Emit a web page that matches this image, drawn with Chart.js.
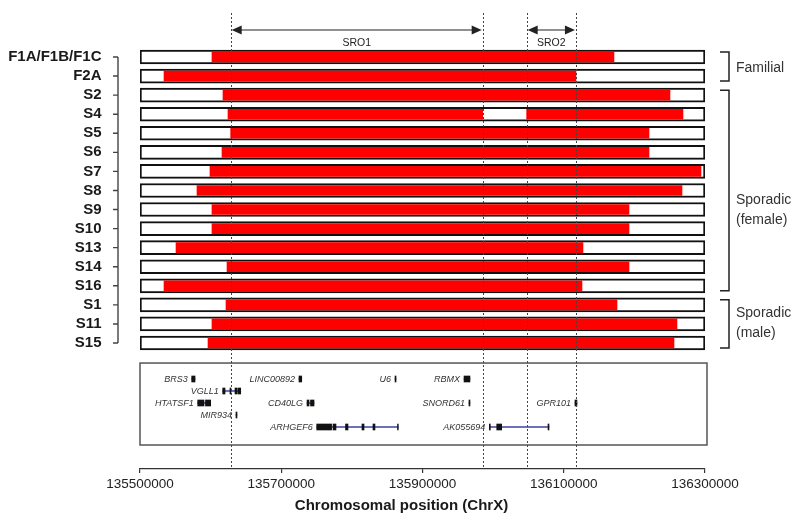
<!DOCTYPE html>
<html>
<head>
<meta charset="utf-8">
<script src="https://cdn.jsdelivr.net/npm/chart.js@4.4.0/dist/chart.umd.min.js"></script>
<style>
  html, body { margin: 0; padding: 0; background: #fff; }
  #wrap { width: 800px; height: 522px; }
</style>
</head>
<body>
<div id="wrap"><canvas id="chart"></canvas></div>
<script>
// chromosome window and axis ticks (ChrX, bp)
const xMin = 135500000;
const xMax = 136300000;
const xTicks = [135500000, 135700000, 135900000, 136100000, 136300000];

// one row per patient, top to bottom
const samples = ['F1A/F1B/F1C', 'F2A', 'S2', 'S4', 'S5', 'S6', 'S7', 'S8',
  'S9', 'S10', 'S13', 'S14', 'S16', 'S1', 'S11', 'S15'];

// duplicated segments (red), S4 is split in two
const segSample = ['F1A/F1B/F1C', 'F2A', 'S2', 'S4', 'S4', 'S5', 'S6', 'S7', 'S8',
  'S9', 'S10', 'S13', 'S14', 'S16', 'S1', 'S11', 'S15'];
const segStart = [135601900, 135534000, 135617500, 135624600, 136047500, 135628400,
  135616100, 135599100, 135580700, 135601900, 135601900, 135551000, 135623200,
  135534000, 135621800, 135601900, 135596300];
const segEnd = [136171100, 136117300, 136250400, 135985200, 136268800, 136220700,
  136220700, 136294300, 136267400, 136192400, 136192400, 136127200, 136192400,
  136125800, 136175400, 136260300, 136256100];

// smallest regions of overlap
const sroNames = ['SRO1', 'SRO2'];
const sroStart = [135628400, 136047500];
const sroEnd = [135985200, 136117300];

// patient groups shown with brackets on the right
const groupLabels = [['Familial'], ['Sporadic', '(female)'], ['Sporadic', '(male)']];
const groupFirst = [0, 2, 13];
const groupLast = [1, 12, 15];
const groupTextRow = [0.6, 8.05, 13.95];

// genes in the window
const geneNames = ['BRS3', 'VGLL1', 'HTATSF1', 'MIR934', 'LINC00892', 'CD40LG',
  'ARHGEF6', 'U6', 'RBMX', 'SNORD61', 'AK055694', 'GPR101'];
const geneStart = [135573200, 135617100, 135581700, 135635900, 135725100, 135736500,
  135750200, 135861100, 135958800, 135965800, 135994600, 136115900];
const geneEnd = [135577900, 135642600, 135600100, 135637300, 135729000, 135746400,
  135865700, 135862500, 135967200, 135967200, 136079100, 136118700];
const geneTrack = [0, 1, 2, 3, 0, 2, 4, 0, 0, 2, 4, 2];

// exon blocks
const exonGene = ['BRS3', 'VGLL1', 'VGLL1', 'VGLL1', 'VGLL1', 'HTATSF1', 'HTATSF1',
  'MIR934', 'LINC00892', 'CD40LG', 'CD40LG', 'ARHGEF6', 'ARHGEF6', 'ARHGEF6',
  'ARHGEF6', 'ARHGEF6', 'ARHGEF6', 'U6', 'RBMX', 'SNORD61', 'AK055694', 'AK055694',
  'AK055694', 'GPR101'];
const exonStart = [135573200, 135617100, 135627400, 135634500, 135639200, 135581700,
  135592700, 135635900, 135725100, 135736500, 135741400, 135750200, 135773300,
  135791000, 135814300, 135829900, 135864600, 135861100, 135958800, 135965800,
  135994600, 136005100, 136077700, 136115900];
const exonEnd = [135577900, 135620400, 135628800, 135637800, 135642600, 135590600,
  135600100, 135637300, 135729000, 135739300, 135746400, 135771300, 135777500,
  135794500, 135817200, 135832700, 135865700, 135862500, 135967200, 135967200,
  135996000, 136012100, 136079100, 136118700];

const FONT = '"Liberation Sans", Arial, Helvetica, sans-serif';

const segData = segSample.map((s, i) => ({ y: samples.indexOf(s), x: [segStart[i], segEnd[i]] }));
const boxData = samples.map((s, i) => ({ y: i, x: [xMin, xMax] }));
const geneData = geneNames.map((g, i) => ({ y: geneTrack[i], x: [geneStart[i], geneEnd[i]] }));
const exonData = exonGene.map((g, i) => ({
  y: geneTrack[geneNames.indexOf(g)], x: [exonStart[i], exonEnd[i]]
}));

function arrowHead(ctx, tipX, y, dir) {
  ctx.beginPath();
  ctx.moveTo(tipX, y);
  ctx.lineTo(tipX + dir * 10, y - 4.5);
  ctx.lineTo(tipX + dir * 10, y + 4.5);
  ctx.closePath();
  ctx.fill();
}

const overlay = {
  id: 'overlay',
  beforeDatasetsDraw(chart) {
    const { ctx, scales: { x, yg } } = chart;
    const top = yg.getPixelForValue(-1.33);
    const bottom = yg.getPixelForValue(5.5);
    ctx.save();
    ctx.strokeStyle = '#555';
    ctx.lineWidth = 1.5;
    ctx.strokeRect(x.left, top, x.right - x.left + 2, bottom - top);
    ctx.restore();
  },
  afterDatasetsDraw(chart) {
    const { ctx, chartArea, scales: { x, y, yg } } = chart;
    ctx.save();

    // left axis line with short ticks
    const ax = y.right - 22;
    ctx.strokeStyle = '#444';
    ctx.lineWidth = 1.4;
    ctx.beginPath();
    ctx.moveTo(ax, y.getPixelForValue(0));
    ctx.lineTo(ax, y.getPixelForValue(samples.length - 1));
    samples.forEach((s, i) => {
      const py = y.getPixelForValue(i);
      ctx.moveTo(ax - 5, py);
      ctx.lineTo(ax, py);
    });
    ctx.stroke();

    // gene names
    ctx.fillStyle = '#333';
    ctx.font = 'italic 9px ' + FONT;
    ctx.textAlign = 'right';
    ctx.textBaseline = 'middle';
    geneNames.forEach((g, i) => {
      ctx.fillText(g, x.getPixelForValue(geneStart[i]) - 4, yg.getPixelForValue(geneTrack[i]));
    });

    // SRO boundaries
    ctx.strokeStyle = '#444';
    ctx.lineWidth = 1;
    ctx.setLineDash([2, 2]);
    ctx.beginPath();
    sroStart.concat(sroEnd).forEach(v => {
      const px = Math.round(x.getPixelForValue(v)) + 0.5;
      ctx.moveTo(px, chartArea.top);
      ctx.lineTo(px, chartArea.bottom);
    });
    ctx.stroke();
    ctx.setLineDash([]);

    // SRO arrows
    const ay = chartArea.top + 17;
    ctx.strokeStyle = '#222';
    ctx.fillStyle = '#222';
    ctx.font = '10.5px ' + FONT;
    ctx.textAlign = 'center';
    sroNames.forEach((n, i) => {
      const x1 = x.getPixelForValue(sroStart[i]);
      const x2 = x.getPixelForValue(sroEnd[i]);
      ctx.beginPath();
      ctx.moveTo(x1 + 5, ay);
      ctx.lineTo(x2 - 5, ay);
      ctx.stroke();
      arrowHead(ctx, x1 + 1, ay, 1);
      arrowHead(ctx, x2 - 1, ay, -1);
      ctx.fillText(n, (x1 + x2) / 2, ay + 13);
    });

    // group brackets
    const bx = x.right + 24;
    ctx.strokeStyle = '#222';
    ctx.lineWidth = 1.5;
    ctx.textAlign = 'left';
    ctx.fillStyle = '#333';
    ctx.font = '14px ' + FONT;
    groupLabels.forEach((lines, g) => {
      const t = y.getPixelForValue(groupFirst[g]) - 5;
      const b = y.getPixelForValue(groupLast[g]) + 5;
      ctx.beginPath();
      ctx.moveTo(bx - 9, t);
      ctx.lineTo(bx, t);
      ctx.lineTo(bx, b);
      ctx.lineTo(bx - 9, b);
      ctx.stroke();
      const cy = y.getPixelForValue(groupTextRow[g]);
      lines.forEach((l, k) => {
        ctx.fillText(l, bx + 7, cy + (k - (lines.length - 1) / 2) * 20);
      });
    });

    // x axis title
    ctx.fillStyle = '#1a1a1a';
    ctx.textAlign = 'center';
    ctx.font = 'bold 15px ' + FONT;
    ctx.fillText('Chromosomal position (ChrX)', (x.left + x.right) / 2 - 21, chartArea.bottom + 37);
    ctx.restore();
  }
};

new Chart(document.getElementById('chart'), {
  type: 'bar',
  data: {
    datasets: [
      {
        label: 'duplicated',
        data: segData,
        yAxisID: 'y',
        backgroundColor: '#ff0000',
        borderWidth: 0,
        barThickness: 10,
        grouped: false,
        order: 0
      },
      {
        label: 'region',
        data: boxData,
        yAxisID: 'y',
        backgroundColor: '#ffffff',
        borderColor: '#111',
        borderWidth: 2,
        borderSkipped: false,
        barThickness: 14,
        grouped: false,
        order: 2
      },
      {
        label: 'exons',
        data: exonData,
        yAxisID: 'yg',
        backgroundColor: '#111',
        borderWidth: 0,
        barThickness: 6,
        grouped: false,
        order: 0
      },
      {
        label: 'genes',
        data: geneData,
        yAxisID: 'yg',
        backgroundColor: '#6f6fc0',
        borderWidth: 0,
        barThickness: 1.5,
        grouped: false,
        order: 1
      }
    ]
  },
  options: {
    indexAxis: 'y',
    responsive: true,
    maintainAspectRatio: false,
    animation: false,
    layout: { padding: { top: 13, right: 95, left: 0, bottom: 0 } },
    plugins: { legend: { display: false }, tooltip: { enabled: false } },
    scales: {
      x: {
        type: 'linear',
        position: 'bottom',
        min: xMin,
        max: xMax,
        beginAtZero: false,
        afterBuildTicks: scale => { scale.ticks = xTicks.map(v => ({ value: v })); },
        afterFit: scale => { scale.height = 53; },
        ticks: {
          callback: v => String(v),
          font: { family: FONT, size: 13.5 },
          color: '#222',
          padding: 3,
          maxRotation: 0,
          autoSkip: false
        },
        grid: { drawOnChartArea: false, drawTicks: true, tickLength: 4, color: '#333', lineWidth: 1.2 },
        border: { display: true, color: '#333', width: 1.2 }
      },
      y: {
        type: 'linear',
        position: 'left',
        reverse: true,
        offset: false,
        min: -2.308,
        max: 21.608,
        afterBuildTicks: scale => { scale.ticks = samples.map((s, i) => ({ value: i })); },
        afterFit: scale => {
          scale.width = 140;
          scale.paddingTop = 0;
          scale.paddingBottom = 0;
        },
        ticks: {
          callback: v => samples[v],
          font: { family: FONT, size: 15, weight: 'bold' },
          color: '#1a1a1a',
          padding: 38.5,
          autoSkip: false
        },
        grid: { display: false, drawTicks: false, offset: false },
        border: { display: false }
      },
      yg: {
        type: 'linear',
        display: false,
        reverse: true,
        offset: false,
        min: -30.5,
        max: 7.5,
        grid: { offset: false }
      }
    }
  },
  plugins: [overlay]
});
</script>
</body>
</html>
